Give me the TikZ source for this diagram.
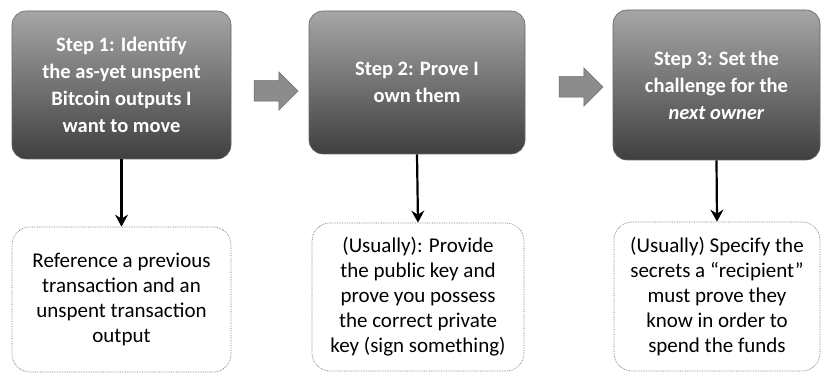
\documentclass[tikz,border=0pt]{standalone}
\usepackage{fontspec}
\setmainfont{Carlito}
\usetikzlibrary{shapes.arrows,arrows.meta}
\tikzset{
  stepbox/.style={rounded corners=14pt, top color=black!35, bottom color=black!75,
    draw=black!60, line width=0.6pt, text=white, align=center,
    font=\fontsize{20.5}{27}\selectfont\bfseries, inner sep=0pt},
  infobox/.style={rounded corners=18pt, draw=black!55, densely dotted, line width=0.7pt,
    fill=white, align=center, font=\fontsize{21}{25}\selectfont, inner sep=0pt},
  blockarrow/.style={single arrow, fill=black!45, draw=black!60, line width=0.5pt,
    minimum height=44pt, inner xsep=0pt, inner ysep=10pt, single arrow head extend=9pt},
  downarrow/.style={line width=2.2pt, -{Stealth[length=12pt,width=13pt,inset=4pt]}}
}
\begin{document}
\begin{tikzpicture}[x=1pt,y=-1pt]
\useasboundingbox (0,0) rectangle (822,374);
% top boxes
\node[stepbox, minimum width=219pt, minimum height=148pt] (t1) at (121.5,85)
  {Step 1: Identify\\the as-yet unspent\\Bitcoin outputs I\\want to move};
\node[stepbox, minimum width=216pt, minimum height=143pt] (t2) at (417,82.5)
  {Step 2: Prove I\\own them};
\node[stepbox, minimum width=207pt, minimum height=150pt] (t3) at (716.5,85)
  {Step 3: Set the\\challenge for the\\\textit{next owner}};
% block arrows
\node[blockarrow] (a1) at (271,91) {};
\node[blockarrow] (a2) at (576,87) {};
% bottom boxes
\node[infobox, minimum width=219pt, minimum height=145pt] (b1) at (121.5,299.5)
  {Reference a previous\\transaction and an\\unspent transaction\\output};
\node[infobox, minimum width=212pt, minimum height=148pt] (b2) at (418,297)
  {(Usually): Provide\\the public key and\\prove you possess\\the correct private\\key (sign something)};
\node[infobox, minimum width=206pt, minimum height=149pt] (b3) at (717,296.5)
  {(Usually) Specify the\\secrets a “recipient”\\must prove they\\know in order to\\spend the funds};
% connectors
\draw[downarrow] (t1.south) -- (b1.north);
\draw[downarrow] (t2.south) -- (b2.north);
\draw[downarrow] (t3.south) -- (b3.north);
\end{tikzpicture}
\end{document}
